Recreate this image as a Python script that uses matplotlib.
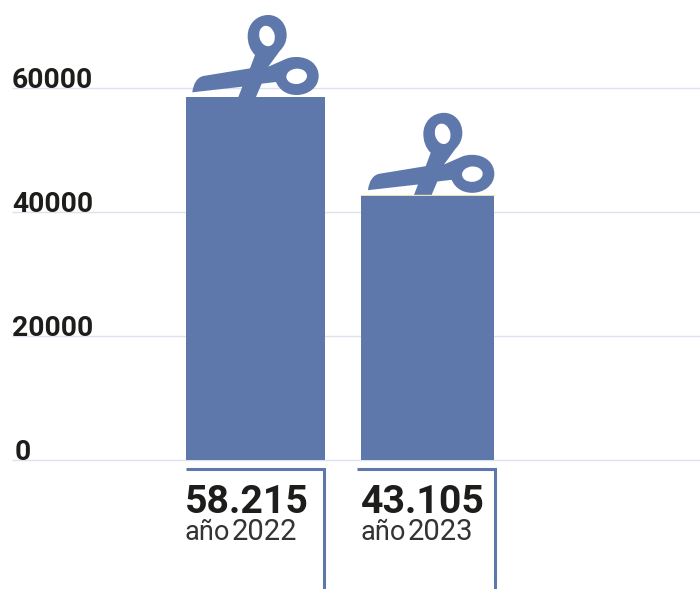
import matplotlib
matplotlib.use("Agg")
import matplotlib.pyplot as plt
from matplotlib.path import Path
from matplotlib.patches import PathPatch, Ellipse
from matplotlib.transforms import Affine2D

years = ["2022", "2023"]
values = [58540, 42740]
value_labels = ["58.215", "43.105"]
y_ticks = [0, 20000, 40000, 60000]

BLUE = "#5f78ab"
INK = "#1d1d1b"
GRID = "#dde2ee"
W, H = 700, 589
PX_PER_UNIT = 372 / 60000
BASE = 460

fig = plt.figure(figsize=(W / 100, H / 100), dpi=100, facecolor="white")
ax = fig.add_axes([0, 0, 1, 1])
ax.set_xlim(0, W)
ax.set_ylim(-(H - BASE) / PX_PER_UNIT, BASE / PX_PER_UNIT)
ax.axis("off")

ov = fig.add_axes([0, 0, 1, 1])
ov.set_xlim(0, W)
ov.set_ylim(H, 0)
ov.axis("off")
ov.patch.set_alpha(0)

for t, py, lx in zip(y_ticks, [460, 336, 213, 88], [14.5, 12, 12, 12]):
    ax.plot([12, W], [t, t], color=GRID, lw=1, zorder=1, solid_capstyle="butt")
    ov.text(lx, py - 0.5, str(t), fontsize=20.3, family="Roboto", weight="bold",
            color=INK, ha="left", va="baseline")

bar_lefts = [186, 361]
bar_widths = [139, 133]
ax.bar(bar_lefts, values, width=bar_widths, align="edge", color=BLUE, zorder=2)
ax.plot([361, 494], [values[1]] * 2, color="#eee6a8", lw=0.7, zorder=2.5)

M, L, C = Path.MOVETO, Path.LINETO, Path.CURVE4
verts = [
    (67, 277),
    (70, 250), (82, 232), (100, 228),
    (240, 205),
    (255, 165),
    (240, 150), (233, 130), (233, 108),
    (233, 72), (260, 45), (295, 45),
    (327, 45), (350, 72), (350, 105),
    (350, 125), (342, 140), (330, 152),
    (295, 200),
    (345, 178),
    (358, 172), (368, 171), (380, 171),
    (418, 171), (446, 195), (446, 228),
    (446, 262), (415, 285), (380, 285),
    (350, 285), (328, 270), (318, 246),
    (275, 251),
    (258, 291),
    (205, 291),
    (217, 260),
    (67, 277),
]
codes = [M, C, C, C, L, L, C, C, C, C, C, C, C, C, C, C, C, C, L, L,
         C, C, C, C, C, C, C, C, C, C, C, C, L, L, L, L, L]
path = Path(verts, codes)

for dx, dy in [(0, 0), (527 / 3, 293.5 / 3)]:
    tf = Affine2D().scale(1 / 3).translate(170 + dx, dy) + ov.transData
    ov.add_patch(PathPatch(path, facecolor=BLUE, edgecolor="none", transform=tf, zorder=3))
    ov.add_patch(Ellipse((291, 108), 46, 62, angle=-14, facecolor="white",
                         edgecolor="none", transform=tf, zorder=4))
    ov.add_patch(Ellipse((380, 229), 62, 46, angle=-5, facecolor="white",
                         edgecolor="none", transform=tf, zorder=4))

for x0, x1 in [(186, 323.8), (357, 494.8)]:
    ov.plot([x0, x1, x1], [468.5, 468.5, H + 2], color=BLUE, lw=2.2,
            solid_joinstyle="miter", solid_capstyle="butt", zorder=3)

for x, lab, yr in zip([185, 361], value_labels, years):
    ov.text(x, 513, lab, fontsize=28.3, family="Roboto", weight="bold",
            color=INK, ha="left", va="baseline")
    ov.text(x, 540, "año", fontsize=19.5, family="Roboto", weight="normal",
            color="#333333", ha="left", va="baseline")
    ov.text(x + 46.5, 540, yr, fontsize=21, family="Roboto", weight="normal",
            color="#333333", ha="left", va="baseline")

fig.savefig("out.png", dpi=100, facecolor="white")
